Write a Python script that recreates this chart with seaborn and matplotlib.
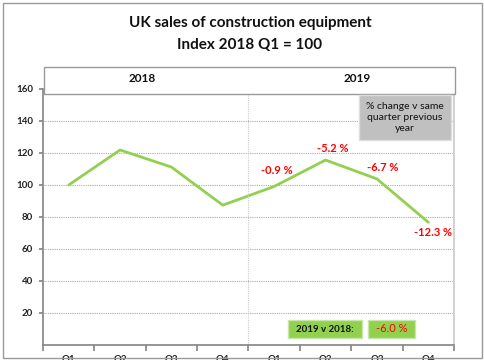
import matplotlib
matplotlib.use("Agg")
import matplotlib.pyplot as plt
import seaborn as sns
import pandas as pd
from matplotlib.patches import Rectangle

quarters = ["Q1", "Q2", "Q3", "Q4", "Q1", "Q2", "Q3", "Q4"]
years = ["2018", "2019"]
index_values = [100, 121.9, 111.2, 87.4, 99.1, 115.6, 103.8, 76.7]
change_labels = ["-0.9 %", "-5.2 %", "-6.7 %", "-12.3 %"]
yearly_change = "-6.0 %"
yticks = [20, 40, 60, 80, 100, 120, 140, 160]

sns.set_theme(style="white")
plt.rcParams['font.family'] = ['Lato', 'DejaVu Sans']

df = pd.DataFrame({"pos": list(range(len(index_values))), "value": index_values})

fig = plt.figure(figsize=(4.85, 3.6), dpi=100)
W, H = 485, 360
def fx(px): return px / W
def fy(py): return 1 - py / H

ax = fig.add_axes([fx(43), fy(345), fx(454) - fx(43), fy(89) - fy(345)])
sns.lineplot(data=df, x="pos", y="value", ax=ax, color="#92D050", linewidth=2)

ax.set_xlim(-0.5, 7.5)
ax.set_ylim(0, 160)
ax.set_xlabel("")
ax.set_ylabel("")
ax.set_yticks(yticks)
ax.set_yticklabels([str(v) for v in yticks], fontsize=7, fontweight="bold", color="#222222")
ax.yaxis.grid(True, color="#aaaaaa", linestyle=(0, (1, 1)), linewidth=0.8)
ax.tick_params(axis="y", length=3, color="#888888", pad=4, left=True)

bounds = [i - 0.5 for i in range(9)]
ax.set_xticks(bounds)
ax.set_xticklabels([""] * len(bounds))
ax.set_xticks(list(range(8)), minor=True)
ax.set_xticklabels(quarters, minor=True, fontsize=7, fontweight="bold", color="#222222")
ax.tick_params(axis="x", which="major", length=4, color="#888888", bottom=True)
ax.tick_params(axis="x", which="minor", length=0, pad=7)

ax.spines["top"].set_visible(False)
ax.spines["left"].set_color("#888888")
ax.spines["bottom"].set_color("#888888")
ax.spines["right"].set_color("#cccccc")
ax.spines["right"].set_linestyle((0, (1, 1)))
ax.axvline(3.5, color="#cccccc", linestyle=(0, (1, 1)), linewidth=0.8)

# change labels
label_pos = [(4.05, 109), (5.14, 123), (6.11, 111), (7.1, 70)]
for (x, y), t in zip(label_pos, change_labels):
    ax.text(x, y, t, color="#ff0000", fontsize=8, fontweight="bold", ha="center", va="center")

# outer border
fig.patches.append(Rectangle((fx(3), fy(358)), fx(482) - fx(3), fy(3) - fy(358),
                             transform=fig.transFigure, fill=False, edgecolor="#999999", linewidth=1))

# titles
fig.text(fx(250), fy(23), "UK sales of construction equipment", ha="center", va="center",
         fontsize=11, fontweight="bold", color="#111111")
fig.text(fx(250), fy(45), "Index 2018 Q1 = 100", ha="center", va="center",
         fontsize=11, fontweight="bold", color="#111111")

# header box
fig.patches.append(Rectangle((fx(44), fy(94)), fx(455) - fx(44), fy(67) - fy(94),
                             transform=fig.transFigure, facecolor="white", edgecolor="#999999", linewidth=1, zorder=5))
fig.text(fx(142), fy(79), years[0], ha="center", va="center", fontsize=8.5, fontweight="bold", color="#111111", zorder=6)
fig.text(fx(357), fy(79), years[1], ha="center", va="center", fontsize=8.5, fontweight="bold", color="#111111", zorder=6)

# grey note box
fig.patches.append(Rectangle((fx(359), fy(140)), fx(451) - fx(359), fy(95) - fy(140),
                             transform=fig.transFigure, facecolor="#c0c0c0", edgecolor="#dddddd", linewidth=1, zorder=5))
fig.text(fx(405), fy(117.5), "% change v same\nquarter previous\nyear", ha="center", va="center",
         fontsize=7.5, color="#111111", linespacing=1.3, zorder=6)

# green boxes
fig.patches.append(Rectangle((fx(288), fy(338)), fx(362) - fx(288), fy(320) - fy(338),
                             transform=fig.transFigure, facecolor="#92D050", edgecolor="#c8e6a8", linewidth=1, zorder=5))
fig.text(fx(325), fy(329), "2019 v 2018:", ha="center", va="center", fontsize=7, fontweight="bold", color="#111111", zorder=6)
fig.patches.append(Rectangle((fx(368), fy(338)), fx(415) - fx(368), fy(320) - fy(338),
                             transform=fig.transFigure, facecolor="#92D050", edgecolor="#c8e6a8", linewidth=1, zorder=5))
fig.text(fx(391.5), fy(329), yearly_change, ha="center", va="center", fontsize=8, color="#ff0000", zorder=6)

fig.savefig("out.png", dpi=100)
